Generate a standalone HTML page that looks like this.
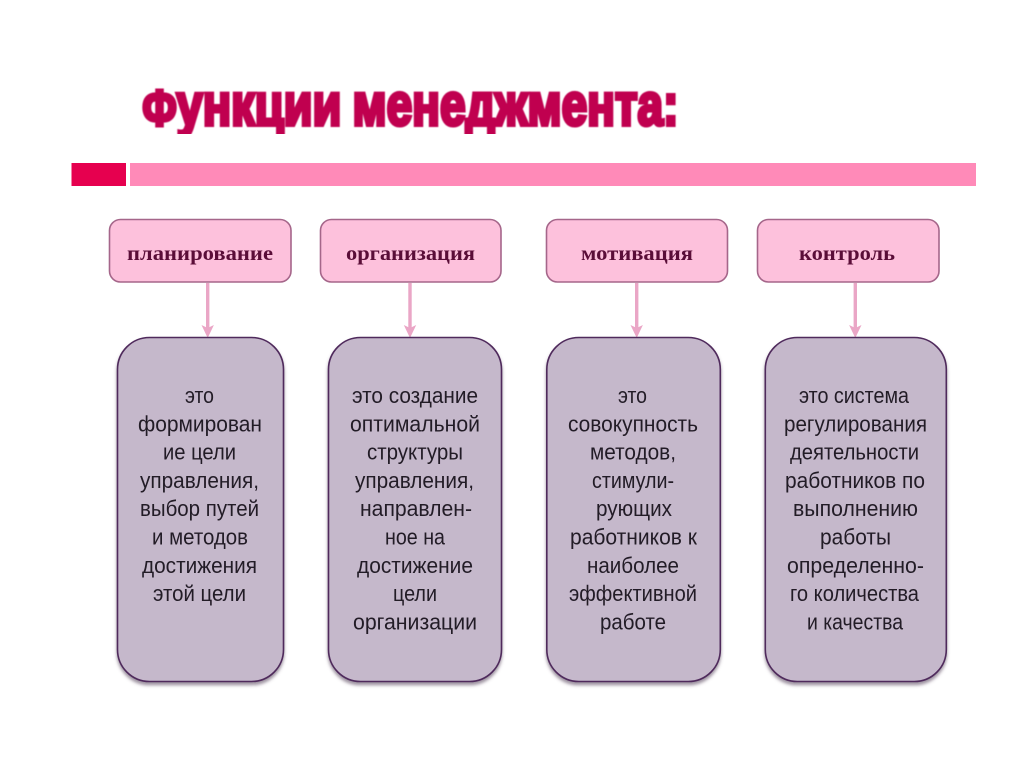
<!DOCTYPE html>
<html lang="ru">
<head>
<meta charset="utf-8">
<title>Функции менеджмента</title>
<style>
html,body{margin:0;padding:0;background:#fff;width:1024px;height:768px;overflow:hidden}
svg{display:block}
.t{font-family:"Liberation Sans",sans-serif;font-size:22px;fill:#241c28;text-anchor:start;filter:url(#soft2)}
.h{font-family:"Liberation Serif",serif;font-weight:bold;font-size:21px;fill:#5a0f38;text-anchor:start;filter:url(#soft2)}
.top{fill:#fdc1dc;stroke:#a5668a;stroke-width:1.6}
.bot{fill:#c5b8cb;stroke:#4f2a5c;stroke-width:1.6;filter:url(#sh)}
.ln{stroke:#eaa6c6;stroke-width:3.4}
.ar{fill:#eaa6c6}
</style>
</head>
<body>
<svg width="1024" height="768" viewBox="0 0 1024 768" xmlns="http://www.w3.org/2000/svg">
<defs>
<filter id="sh" x="-10%" y="-5%" width="120%" height="110%">
<feDropShadow dx="0" dy="3" stdDeviation="1.6" flood-color="#5a4a60" flood-opacity=".6"/>
</filter>
<filter id="soft"><feGaussianBlur stdDeviation=".45"/></filter>
<filter id="soft2"><feGaussianBlur stdDeviation=".25"/></filter>
<clipPath id="tc"><rect x="130" y="80" width="560" height="54"/></clipPath>
</defs>

<g clip-path="url(#tc)">
<g font-family="Liberation Sans,sans-serif" font-weight="bold" font-size="59" fill="#c00050" stroke="#c00050" stroke-width="4" filter="url(#soft)">
<text x="142.5" y="125" textLength="199" lengthAdjust="spacingAndGlyphs"><tspan font-size="50">Ф</tspan>ункции</text>
<text x="352.5" y="125" textLength="326" lengthAdjust="spacingAndGlyphs">менеджмента:</text>
</g>
</g>

<rect x="71.5" y="163" width="54.5" height="23" fill="#e6004f"/>
<rect x="130" y="163" width="846" height="23" fill="#ff8ab8"/>

<g>
<rect class="top" x="109.5" y="219.5" width="181.5" height="62.5" rx="11"/>
<rect class="top" x="320.5" y="219.5" width="180.5" height="62.5" rx="11"/>
<rect class="top" x="546.5" y="219.5" width="181" height="62.5" rx="11"/>
<rect class="top" x="757.5" y="219.5" width="181.5" height="62.5" rx="11"/>
</g>
<g>
<text class="h" x="127" y="260" textLength="146" lengthAdjust="spacingAndGlyphs">планирование</text>
<text class="h" x="346" y="260" textLength="129" lengthAdjust="spacingAndGlyphs">организация</text>
<text class="h" x="581" y="260" textLength="112" lengthAdjust="spacingAndGlyphs">мотивация</text>
<text class="h" x="799" y="260" textLength="96" lengthAdjust="spacingAndGlyphs">контроль</text>
</g>

<g>
<line class="ln" x1="207.7" y1="283" x2="207.7" y2="330"/><path class="ar" d="M201.5 325 L207.7 328 L213.9 325 L207.7 338Z"/>
<line class="ln" x1="410" y1="283" x2="410" y2="330"/><path class="ar" d="M403.8 325 L410 328 L416.2 325 L410 338Z"/>
<line class="ln" x1="636.7" y1="283" x2="636.7" y2="330"/><path class="ar" d="M630.5 325 L636.7 328 L642.9 325 L636.7 338Z"/>
<line class="ln" x1="855.3" y1="283" x2="855.3" y2="330"/><path class="ar" d="M849.1 325 L855.3 328 L861.5 325 L855.3 338Z"/>
</g>

<g>
<rect class="bot" x="117.5" y="337.5" width="166" height="344" rx="32"/>
<rect class="bot" x="328.5" y="337.5" width="173" height="344" rx="32"/>
<rect class="bot" x="546.8" y="337.5" width="173.5" height="344" rx="32"/>
<rect class="bot" x="765.3" y="337.5" width="181" height="344" rx="32"/>
</g>

<g>
<text class="t" x="185" y="403" textLength="29" lengthAdjust="spacingAndGlyphs">это</text>
<text class="t" x="138" y="431.3" textLength="124" lengthAdjust="spacingAndGlyphs">формирован</text>
<text class="t" x="163" y="459.6" textLength="73" lengthAdjust="spacingAndGlyphs">ие цели</text>
<text class="t" x="140" y="488" textLength="119" lengthAdjust="spacingAndGlyphs">управления,</text>
<text class="t" x="140" y="516.2" textLength="119" lengthAdjust="spacingAndGlyphs">выбор путей</text>
<text class="t" x="152" y="544.5" textLength="96" lengthAdjust="spacingAndGlyphs">и методов</text>
<text class="t" x="142" y="572.8" textLength="115" lengthAdjust="spacingAndGlyphs">достижения</text>
<text class="t" x="153" y="601" textLength="93" lengthAdjust="spacingAndGlyphs">этой цели</text>
</g>
<g>
<text class="t" x="352" y="403" textLength="126" lengthAdjust="spacingAndGlyphs">это создание</text>
<text class="t" x="350" y="431.3" textLength="130" lengthAdjust="spacingAndGlyphs">оптимальной</text>
<text class="t" x="367" y="459.6" textLength="96" lengthAdjust="spacingAndGlyphs">структуры</text>
<text class="t" x="355" y="488" textLength="119" lengthAdjust="spacingAndGlyphs">управления,</text>
<text class="t" x="360" y="516.2" textLength="112" lengthAdjust="spacingAndGlyphs">направлен-</text>
<text class="t" x="385" y="544.5" textLength="60" lengthAdjust="spacingAndGlyphs">ное на</text>
<text class="t" x="357" y="572.8" textLength="116" lengthAdjust="spacingAndGlyphs">достижение</text>
<text class="t" x="393" y="601" textLength="44" lengthAdjust="spacingAndGlyphs">цели</text>
<text class="t" x="353" y="629.5" textLength="124" lengthAdjust="spacingAndGlyphs">организации</text>
</g>
<g>
<text class="t" x="618" y="403" textLength="29" lengthAdjust="spacingAndGlyphs">это</text>
<text class="t" x="568" y="431.3" textLength="130" lengthAdjust="spacingAndGlyphs">совокупность</text>
<text class="t" x="590" y="459.6" textLength="86" lengthAdjust="spacingAndGlyphs">методов,</text>
<text class="t" x="592" y="488" textLength="82" lengthAdjust="spacingAndGlyphs">стимули-</text>
<text class="t" x="596" y="516.2" textLength="76" lengthAdjust="spacingAndGlyphs">рующих</text>
<text class="t" x="570" y="544.5" textLength="127" lengthAdjust="spacingAndGlyphs">работников к</text>
<text class="t" x="587" y="572.8" textLength="92" lengthAdjust="spacingAndGlyphs">наиболее</text>
<text class="t" x="569" y="601" textLength="128" lengthAdjust="spacingAndGlyphs">эффективной</text>
<text class="t" x="600" y="629.5" textLength="66" lengthAdjust="spacingAndGlyphs">работе</text>
</g>
<g>
<text class="t" x="799" y="403" textLength="110" lengthAdjust="spacingAndGlyphs">это система</text>
<text class="t" x="784" y="431.3" textLength="143" lengthAdjust="spacingAndGlyphs">регулирования</text>
<text class="t" x="790" y="459.6" textLength="129" lengthAdjust="spacingAndGlyphs">деятельности</text>
<text class="t" x="785" y="488" textLength="140" lengthAdjust="spacingAndGlyphs">работников по</text>
<text class="t" x="793" y="516.2" textLength="125" lengthAdjust="spacingAndGlyphs">выполнению</text>
<text class="t" x="820" y="544.5" textLength="71" lengthAdjust="spacingAndGlyphs">работы</text>
<text class="t" x="787" y="572.8" textLength="137" lengthAdjust="spacingAndGlyphs">определенно-</text>
<text class="t" x="790" y="601" textLength="129" lengthAdjust="spacingAndGlyphs">го количества</text>
<text class="t" x="807" y="629.5" textLength="96" lengthAdjust="spacingAndGlyphs">и качества</text>
</g>
</svg>
</body>
</html>
